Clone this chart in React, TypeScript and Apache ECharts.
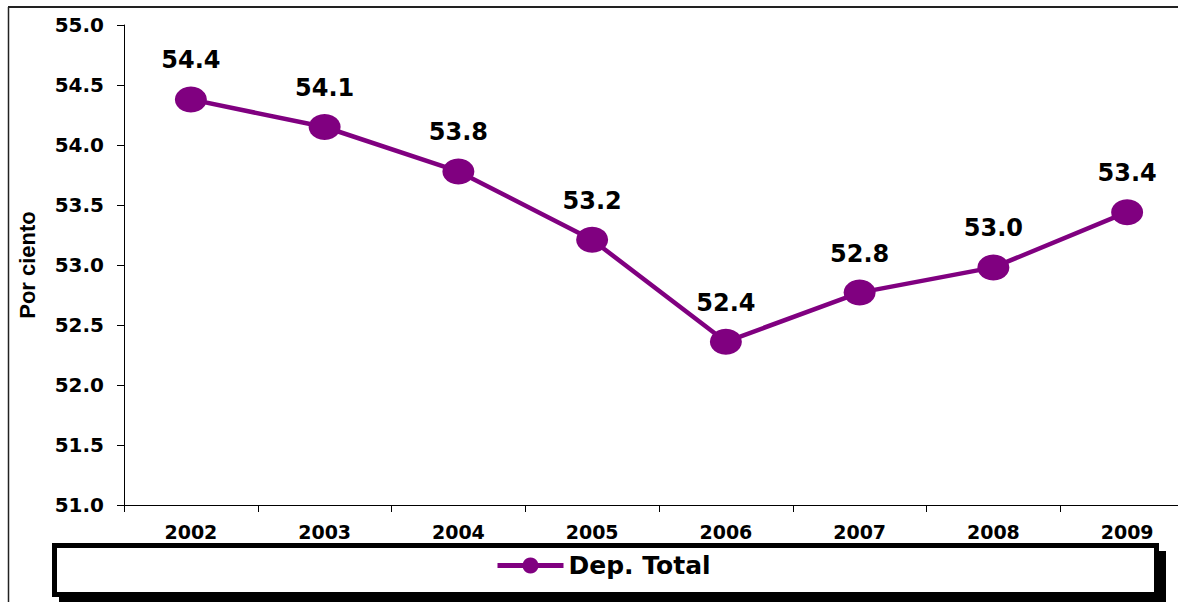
import React, { useEffect, useRef } from "react";
import * as echarts from "echarts";

const categories = ["2002", "2003", "2004", "2005", "2006", "2007", "2008", "2009"];
const depTotal = [54.38, 54.15, 53.78, 53.21, 52.36, 52.77, 52.98, 53.44];
const labelValues = ["54.4", "54.1", "53.8", "53.2", "52.4", "52.8", "53.0", "53.4"];
const seriesName = "Dep. Total";
const yMin = 51;
const yMax = 55;
const yStep = 0.5;
const yTitle = "Por ciento";

const PURPLE = "#800080";
const FONT = "DejaVu Sans";

export default function App() {
  const ref = useRef<HTMLDivElement>(null);
  useEffect(() => {
    if (!ref.current) return;
    const chart = echarts.init(ref.current, null, { renderer: "svg" });
    chart.setOption({
      animation: false,
      backgroundColor: "#ffffff",
      grid: {
        left: 124,
        top: 25,
        height: 480,
        width: 1070,
        containLabel: false,
        outerBoundsMode: "none",
      },
      xAxis: {
        type: "category",
        data: categories,
        boundaryGap: true,
        axisLine: { lineStyle: { color: "#000", width: 1 } },
        axisTick: { show: true, length: 7, lineStyle: { color: "#000" } },
        axisLabel: {
          color: "#000",
          fontFamily: FONT,
          fontWeight: "bold",
          fontSize: 19,
          margin: 17,
        },
        splitLine: { show: false },
      },
      yAxis: {
        type: "value",
        min: yMin,
        max: yMax,
        interval: yStep,
        name: yTitle,
        nameLocation: "middle",
        nameGap: 86,
        nameRotate: 90,
        nameTextStyle: {
          color: "#000",
          fontFamily: "Liberation Sans",
          fontWeight: "bold",
          fontSize: 22,
          letterSpacing: -1.5,
        },
        axisLine: { show: true, lineStyle: { color: "#000", width: 1 } },
        axisTick: { show: true, length: 7, lineStyle: { color: "#000" } },
        axisLabel: {
          color: "#000",
          fontFamily: FONT,
          fontWeight: "bold",
          fontSize: 20,
          margin: 20,
          formatter: (v: number) => v.toFixed(1),
        },
        splitLine: { show: false },
      },
      legend: {
        show: true,
        left: 495,
        top: 553,
        itemWidth: 66,
        itemHeight: 20,
        padding: 0,
        lineStyle: { width: 5 },
        textStyle: {
          color: "#000",
          fontFamily: FONT,
          fontWeight: "bold",
          fontSize: 25,
        },
        data: [seriesName],
      },
      graphic: [
        {
          type: "line",
          z: -10,
          shape: { x1: 8, y1: 7, x2: 1178, y2: 7 },
          style: { stroke: "#222", lineWidth: 2 },
        },
        {
          type: "line",
          z: -10,
          shape: { x1: 8.5, y1: 7, x2: 8.5, y2: 602 },
          style: { stroke: "#222", lineWidth: 1.5 },
        },
        {
          type: "rect",
          z: -10,
          shape: { x: 59, y: 551, width: 1107, height: 55 },
          style: { fill: "#000" },
        },
        {
          type: "rect",
          z: -9,
          shape: { x: 54.5, y: 545.5, width: 1102, height: 49 },
          style: { fill: "#fff", stroke: "#000", lineWidth: 5 },
        },
      ],
      series: [
        {
          name: seriesName,
          type: "line",
          data: depTotal,
          symbol: "circle",
          symbolSize: [32, 26],
          lineStyle: { color: PURPLE, width: 4.5 },
          itemStyle: { color: PURPLE },
          label: {
            show: true,
            position: "top",
            distance: 14,
            color: "#000",
            fontFamily: FONT,
            fontWeight: "bold",
            fontSize: 24,
            formatter: (p: any) => labelValues[p.dataIndex],
          },
          clip: false,
        },
      ],
    });
    return () => chart.dispose();
  }, []);
  return (
    <div
      ref={ref}
      style={{ position: "fixed", left: 0, top: 0, width: 1178, height: 602 }}
    />
  );
}
